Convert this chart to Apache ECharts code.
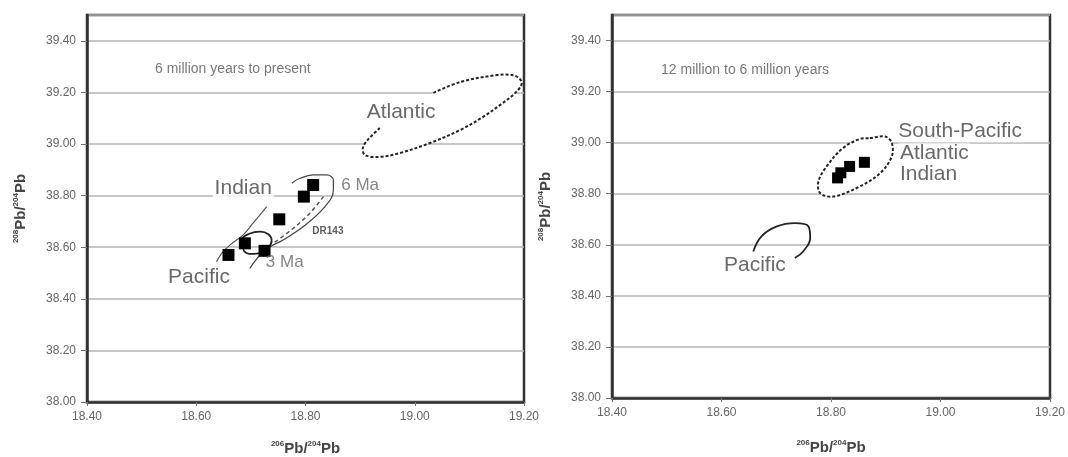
<!DOCTYPE html>
<html>
<head>
<meta charset="utf-8">
<script src="https://cdn.jsdelivr.net/npm/echarts@6/dist/echarts.min.js"></script>
<style>
  html, body { margin: 0; padding: 0; background: #fff; }
  #chart { width: 1068px; height: 457px; }
</style>
</head>
<body>
<div id="chart"></div>
<script>
// axis ticks (both panels share the same scales)
var xTicks = [18.40, 18.60, 18.80, 19.00, 19.20];
var yTicks = [38.00, 38.20, 38.40, 38.60, 38.80, 39.00, 39.20, 39.40];

// left panel: 6 Ma to present, 206Pb/204Pb vs 208Pb/204Pb
var leftSamples = [[18.659, 38.570], [18.689, 38.615], [18.725, 38.586], [18.752, 38.708], [18.797, 38.796], [18.814, 38.841]];
var leftAtlantic = [[19.034, 39.198], [19.083, 39.240], [19.151, 39.267], [19.184, 39.264], [19.196, 39.236], [19.184, 39.198],
  [19.156, 39.151], [19.125, 39.105], [19.083, 39.054], [19.028, 39.004], [18.973, 38.965], [18.936, 38.950],
  [18.909, 38.957], [18.905, 38.984], [18.914, 39.016], [18.936, 39.062]];
var leftIndianLine = [[18.729, 38.757], [18.704, 38.693], [18.686, 38.648], [18.662, 38.609], [18.647, 38.577], [18.637, 38.544]];
var leftPacificLoop = [[18.686, 38.598], [18.684, 38.630], [18.697, 38.652], [18.717, 38.660], [18.732, 38.650], [18.738, 38.625],
  [18.731, 38.596], [18.714, 38.576], [18.697, 38.574], [18.688, 38.584]];
var leftDR143 = [[18.698, 38.518], [18.726, 38.589], [18.759, 38.628], [18.796, 38.680], [18.833, 38.751], [18.851, 38.822],
  [18.851, 38.861], [18.839, 38.880], [18.814, 38.880], [18.790, 38.867], [18.775, 38.848]];
var leftDR143Mid = [[18.833, 38.796], [18.808, 38.732], [18.778, 38.674], [18.741, 38.615]];
var leftLabels = [
  [18.667, 39.291, '6 million years to present', 'note'],
  [18.975, 39.124, 'Atlantic', 'big'],
  [18.686, 38.830, 'Indian', 'big'],
  [18.900, 38.838, '6 Ma', 'mid'],
  [18.841, 38.663, 'DR143', 'tiny'],
  [18.762, 38.543, '3 Ma', 'mid'],
  [18.605, 38.485, 'Pacific', 'big']
];

// right panel: 12 Ma to 6 Ma
var rightSamples = [[18.812, 38.862], [18.818, 38.882], [18.834, 38.907], [18.861, 38.923]];
var rightField = [[18.871, 39.018], [18.899, 39.024], [18.911, 38.999], [18.911, 38.946], [18.890, 38.881], [18.853, 38.829],
  [18.804, 38.789], [18.780, 38.803], [18.777, 38.848], [18.792, 38.907], [18.822, 38.979], [18.853, 39.015]];
var rightPacific = [[18.658, 38.574], [18.673, 38.633], [18.701, 38.672], [18.734, 38.685], [18.759, 38.672],
  [18.762, 38.626], [18.749, 38.574], [18.734, 38.548]];
var rightLabels = [
  [18.643, 39.286, '12 million to 6 million years', 'note'],
  [18.661, 38.522, 'Pacific', 'big']
];
var rightListLabels = [
  [18.921, 39.043, 'South-Pacific'],
  [18.924, 38.957, 'Atlantic'],
  [18.924, 38.875, 'Indian']
];

var chart = echarts.init(document.getElementById('chart'));

var FONT = '"Liberation Sans", Arial, sans-serif';
var labelStyles = {
  note: { fontSize: 14, color: '#555' },
  big: { fontSize: 21, color: '#444', backgroundColor: '#fff', padding: [0, 2] },
  mid: { fontSize: 17, color: '#666' },
  tiny: { fontSize: 10, color: '#333', fontWeight: 'bold' }
};
var nameRich = {
  s: { fontSize: 8, color: '#444', verticalAlign: 'top', fontFamily: FONT, fontWeight: 'bold' },
  b: { fontSize: 15, color: '#444', fontFamily: FONT, fontWeight: 'bold', lineHeight: 17 }
};

function xAxisOf(idx, gap) {
  return {
    type: 'value', gridIndex: idx, min: 18.4, max: 19.2, interval: 0.2,
    name: '{s|206}{b|Pb/}{s|204}{b|Pb}', nameLocation: 'middle', nameGap: gap,
    nameTextStyle: { rich: nameRich },
    axisLine: { show: true, onZero: false, lineStyle: { color: '#333', width: 2.5 } },
    axisTick: { show: true, length: 4, lineStyle: { color: '#777' } },
    axisLabel: { fontSize: 12, color: '#666', fontFamily: FONT, margin: 9,
      formatter: function (v) { return v.toFixed(2); } },
    splitLine: { show: false }
  };
}
function yAxisOf(idx) {
  return {
    type: 'value', gridIndex: idx, min: 38, max: 39.5, interval: 0.2,
    name: '{s|208}{b|Pb/}{s|204}{b|Pb}', nameLocation: 'middle', nameGap: 58, nameRotate: 90,
    nameTextStyle: { rich: nameRich },
    axisLine: { show: true, onZero: false, lineStyle: { color: '#333', width: 2.5 } },
    axisTick: { show: true, length: 6, lineStyle: { color: '#777' } },
    axisLabel: { fontSize: 12, color: '#666', fontFamily: FONT, margin: 11, showMaxLabel: false,
      formatter: function (v) { return v.toFixed(2); } },
    splitLine: { show: true, lineStyle: { color: '#b4b4b4', width: 1.5 } }
  };
}

// closed field with white fill (hides grid lines), dashed outline
function field(idx, pts, closedOutline) {
  return {
    type: 'custom', xAxisIndex: idx, yAxisIndex: idx, z: 2, silent: true,
    data: [pts[0]],
    renderItem: function (params, api) {
      var p = pts.map(function (d) { return api.coord(d); });
      var outline = { fill: null, stroke: '#222', lineWidth: 2, lineDash: [3, 2] };
      return {
        type: 'group',
        children: [
          { type: 'polygon', shape: { points: p, smooth: 0.35 }, style: { fill: '#fff', stroke: null } },
          { type: closedOutline ? 'polygon' : 'polyline', shape: { points: p, smooth: 0.35 }, style: outline }
        ]
      };
    }
  };
}
function curve(idx, pts, color, width, type, closed) {
  var data = closed ? pts.concat([pts[0]]) : pts;
  return {
    type: 'line', xAxisIndex: idx, yAxisIndex: idx, z: 3, silent: true, data: data,
    smooth: 0.4, showSymbol: false, symbol: 'none',
    lineStyle: { color: color, width: width, type: type || 'solid' }
  };
}
function samples(idx, pts, size) {
  return {
    type: 'scatter', xAxisIndex: idx, yAxisIndex: idx, z: 5, silent: true, data: pts,
    symbol: 'rect', symbolSize: size, itemStyle: { color: '#000', opacity: 1 }
  };
}
function labels(idx, list) {
  return {
    type: 'scatter', xAxisIndex: idx, yAxisIndex: idx, z: 6, silent: true, symbolSize: 0,
    data: list.map(function (d) {
      var st = labelStyles[d[3]];
      return { value: [d[0], d[1]], label: Object.assign({ show: true, position: 'inside', formatter: d[2], fontFamily: FONT }, st) };
    })
  };
}
function listLabels(idx, list) {
  return {
    type: 'scatter', xAxisIndex: idx, yAxisIndex: idx, z: 6, silent: true, symbolSize: 0,
    data: list.map(function (d) {
      return { value: [d[0], d[1]], label: { show: true, position: 'right', distance: 0, formatter: d[2],
        fontFamily: FONT, fontSize: 21, color: '#444', backgroundColor: '#fff', padding: [0, 1] } };
    })
  };
}

var option = {
  animation: false,
  backgroundColor: '#fff',
  grid: [
    { left: 87, top: 15, width: 437, height: 387, outerBoundsMode: 'none', containLabel: false,
      show: true, borderColor: '#333', borderWidth: 2.5, backgroundColor: '#fff' },
    { left: 612, top: 15, width: 438, height: 383, outerBoundsMode: 'none', containLabel: false,
      show: true, borderColor: '#333', borderWidth: 2.5, backgroundColor: '#fff' }
  ],
  xAxis: [xAxisOf(0, 38), xAxisOf(1, 41)],
  yAxis: [yAxisOf(0), yAxisOf(1)],
  series: [
    field(0, leftAtlantic, false),
    curve(0, leftIndianLine, '#555', 1.2),
    curve(0, leftPacificLoop, '#222', 1.8, 'solid', true),
    curve(0, leftDR143, '#444', 1.2),
    curve(0, leftDR143Mid, '#555', 1.5, [4, 3]),
    samples(0, leftSamples, 12),
    labels(0, leftLabels),

    field(1, rightField, true),
    curve(1, rightPacific, '#222', 1.8),
    samples(1, rightSamples, 11),
    labels(1, rightLabels),
    listLabels(1, rightListLabels)
  ]
};
chart.setOption(option);
</script>
</body>
</html>
